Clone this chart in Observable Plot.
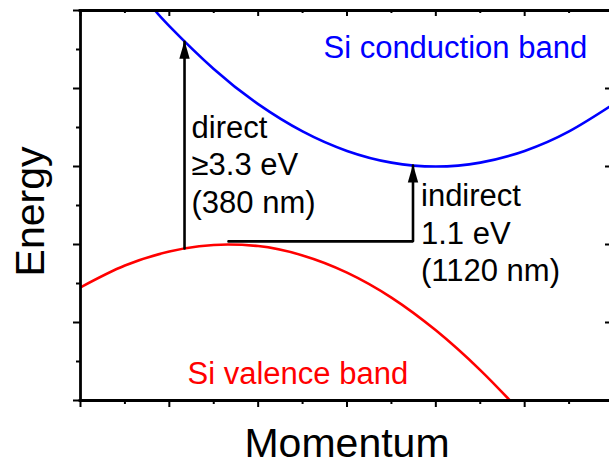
<!DOCTYPE html>
<html>
<head>
<meta charset="utf-8">
<script src="https://cdn.jsdelivr.net/npm/d3@7"></script>
<script src="https://cdn.jsdelivr.net/npm/@observablehq/plot@0.6"></script>
<style>
  html, body { margin: 0; padding: 0; background: #fff; overflow: hidden; }
  #chart svg { display: block; }
</style>
</head>
<body>
<div id="chart"></div>
<script>
// Conduction band (blue)
const condK = [0.84, 1.0, 1.5, 2.0, 2.5, 3.0, 3.5, 4.0, 4.5, 5.0, 5.5, 6.0];
const condE = [5.0, 4.8, 4.25, 3.8, 3.45, 3.2, 3.05, 3.0, 3.05, 3.2, 3.45, 3.8];
// Valence band (red)
const valK = [0.0, 0.5, 1.0, 1.66, 2.0, 2.5, 3.0, 3.5, 4.0, 4.5, 5.0];
const valE = [1.45, 1.73, 1.91, 2.0, 1.98, 1.86, 1.64, 1.32, 0.90, 0.39, -0.2];
// Transitions
const directK = [1.171, 1.171];
const directE = [1.95, 4.6];
const indirectK = [1.666, 3.743, 3.743];
const indirectE = [2.04, 2.04, 3.013];
// Ticks
const xMajor = [0, 1, 2, 3, 4, 5, 6];
const xMinor = [0.5, 1.5, 2.5, 3.5, 4.5, 5.5];
const yMajor = [0, 1, 2, 3, 4, 5];
const yMinor = [0.5, 1.5, 2.5, 3.5, 4.5];
// Labels
const bandLabels = [
  {k: 2.735, e: 4.397, text: "Si conduction band", color: "#0000ff"},
  {k: 1.205, e: 0.214, text: "Si valence band", color: "#ff0000"}
];
const directLabel = [{k: 1.171, e: 2.41, text: "direct\n\u22653.3 eV\n(380 nm)"}];
const indirectLabel = [{k: 3.743, e: 1.526, text: "indirect\n1.1 eV\n(1120 nm)"}];
const xTitle = "Momentum";
const yTitle = "Energy";

const cond = condK.map((k, i) => ({k, e: condE[i]}));
const val = valK.map((k, i) => ({k, e: valE[i]}));
const direct = directK.map((k, i) => ({k, e: directE[i]}));
const indirect = indirectK.map((k, i) => ({k, e: indirectE[i]}));
const tips = [direct[direct.length - 1], indirect[indirect.length - 1]];

const font = "Liberation Sans, Arial, Helvetica, sans-serif";
const arrowHead = {
  draw(ctx) {
    ctx.moveTo(0, -1);
    ctx.lineTo(5.2, 17);
    ctx.lineTo(-5.2, 17);
    ctx.closePath();
  }
};

const W = 609, H = 462, mL = 80, mT = 10, mR = -4, mB = 62;
const fw = W - mL - mR, fh = H - mT - mB;

const chart = Plot.plot({
  width: W,
  height: H,
  marginLeft: mL,
  marginTop: mT,
  marginRight: mR,
  marginBottom: mB,
  x: {domain: [0, 6], axis: null},
  y: {domain: [0, 5], axis: null},
  style: {fontFamily: font, background: "white"},
  marks: [
    // curves
    Plot.line(cond, {x: "k", y: "e", stroke: "#0000ff", strokeWidth: 2.6, curve: "natural", clip: true}),
    Plot.line(val, {x: "k", y: "e", stroke: "#ff0000", strokeWidth: 2.6, curve: "monotone-x", clip: true}),
    // transitions
    Plot.line(direct, {x: "k", y: "e", stroke: "black", strokeWidth: 2.6}),
    Plot.line(indirect, {x: "k", y: "e", stroke: "black", strokeWidth: 2.6, strokeLinejoin: "miter"}),
    Plot.dot(tips, {x: "k", y: "e", symbol: arrowHead, fill: "black", stroke: null, r: 5}),
    // frame
    Plot.ruleY([0, 5], {stroke: "black", strokeWidth: 2.8, insetLeft: -1.4, insetRight: -1.4}),
    Plot.ruleX([0, 6], {stroke: "black", strokeWidth: 2.8}),
    // bottom ticks (outward)
    Plot.ruleX(xMajor, {x: d => d, insetTop: fh, insetBottom: -7, stroke: "black", strokeWidth: 2}),
    Plot.ruleX(xMinor, {x: d => d, insetTop: fh, insetBottom: -4, stroke: "black", strokeWidth: 2}),
    // top ticks (inward)
    Plot.ruleX(xMajor, {x: d => d, insetTop: 0, insetBottom: fh - 6, stroke: "black", strokeWidth: 2}),
    Plot.ruleX(xMinor, {x: d => d, insetTop: 0, insetBottom: fh - 3, stroke: "black", strokeWidth: 2}),
    // left ticks (outward)
    Plot.ruleY(yMajor, {y: d => d, insetLeft: -7, insetRight: fw, stroke: "black", strokeWidth: 2}),
    Plot.ruleY(yMinor, {y: d => d, insetLeft: -4, insetRight: fw, stroke: "black", strokeWidth: 2}),
    // right ticks (inward)
    Plot.ruleY(yMajor, {y: d => d, insetLeft: fw - 8, insetRight: 0, stroke: "black", strokeWidth: 2}),
    Plot.ruleY(yMinor, {y: d => d, insetLeft: fw - 4, insetRight: 0, stroke: "black", strokeWidth: 2}),
    // labels
    Plot.text(bandLabels, {x: "k", y: "e", text: "text", fill: "color", textAnchor: "start", lineAnchor: "bottom", fontSize: 31, fontFamily: font}),
    Plot.text(directLabel, {x: "k", y: "e", text: "text", dx: 7, textAnchor: "start", lineAnchor: "bottom", lineHeight: 1.21, fontSize: 31, fontFamily: font, fill: "black"}),
    Plot.text(indirectLabel, {x: "k", y: "e", text: "text", dx: 8, textAnchor: "start", lineAnchor: "bottom", lineHeight: 1.21, fontSize: 31, fontFamily: font, fill: "black"}),
    // axis titles
    Plot.text([xTitle], {text: d => d, frameAnchor: "bottom", textAnchor: "middle", lineAnchor: "bottom", dy: 56, fontSize: 41, fontFamily: font, fill: "black"}),
    Plot.text([yTitle], {text: d => d, frameAnchor: "left", textAnchor: "middle", lineAnchor: "bottom", rotate: -90, dx: -37, dy: 6, fontSize: 41, fontFamily: font, fill: "black"})
  ]
});
document.getElementById("chart").appendChild(chart);
</script>
</body>
</html>
